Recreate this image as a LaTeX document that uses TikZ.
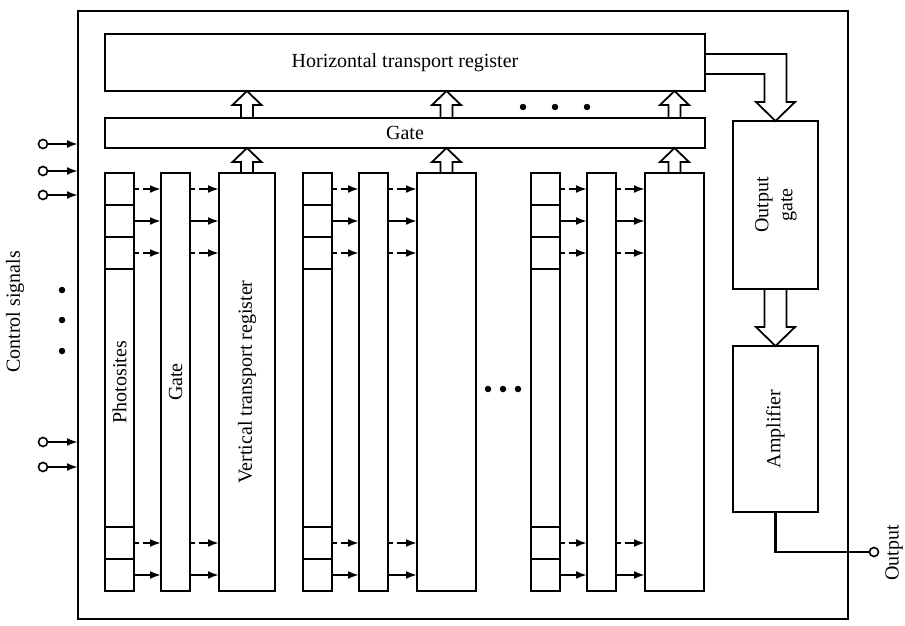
\documentclass[tikz,border=0pt]{standalone}
\usepackage{fontspec}
\setmainfont{Liberation Serif}
\usetikzlibrary{arrows.meta,calc}
\tikzset{
  blk/.style={rectangle, draw, line width=1.8pt, inner sep=0pt, outer sep=0pt, font=\fontsize{20}{24}\selectfont},
  chipbox/.style={rectangle, draw, line width=2.8pt, inner sep=0pt, outer sep=0pt},
  sig/.style={line width=2.2pt, -{Latex[length=11pt,width=8pt]}},
  dsig/.style={sig, dash pattern=on 5pt off 4pt on 40pt},
  hollow/.style={draw, line width=1.8pt},
  bullet/.style={circle, fill, inner sep=0pt, minimum size=6.5pt},
  term/.style={circle, draw, fill=white, line width=1.6pt, inner sep=0pt, minimum size=9pt},
  lbl/.style={font=\fontsize{20}{24}\selectfont, inner sep=0pt}
}
\newcommand{\hollowup}[2]{%
  \draw[hollow] ($(#1)+(-6,0)$) -- ($(#2)+(-6,14)$) -- ($(#2)+(-14.5,14)$) -- (#2)
    -- ($(#2)+(14.5,14)$) -- ($(#2)+(6,14)$) -- ($(#1)+(6,0)$);}

\begin{document}
\begin{tikzpicture}[x=1pt, y=-1pt]
  \useasboundingbox (0,0) rectangle (905,626);
  \node[chipbox, anchor=north west, minimum width=770pt, minimum height=608pt] (chip) at (78,11) {};
  \node[blk, anchor=north west, minimum width=600pt, minimum height=57pt] (htr) at (105,34) {Horizontal transport register};
  \node[blk, anchor=north west, minimum width=600pt, minimum height=30pt] (gate) at (105,118) {Gate};
  \node[blk, anchor=north west, minimum width=85pt, minimum height=168pt] (og) at (733,121) {\rotatebox{90}{\begin{tabular}{@{}c@{}}Output\\gate\end{tabular}}};
  \node[blk, anchor=north west, minimum width=85pt, minimum height=166pt] (amp) at (733,346) {\rotatebox{90}{Amplifier}};

  \foreach \c/\x/\w/\pl/\gl/\vl in {1/105/56/Photosites/Gate/Vertical transport register, 2/303/59/{}/{}/{}, 3/531/59/{}/{}/{}} {
    \node[blk, anchor=north west, minimum width=29pt, minimum height=418pt] (ph\c) at (\x,173) {\rotatebox{90}{\pl}};
    \node[blk, anchor=north west, minimum width=29pt, minimum height=418pt] (gt\c) at (\x+56,173) {\rotatebox{90}{\gl}};
    \node[blk, anchor=north west, minimum width=\w pt, minimum height=418pt] (vtr\c) at (\x+114,173) {\rotatebox{90}{\vl}};
    \foreach \r/\y/\s in {1/173/dsig, 2/205/sig, 3/237/dsig, 4/527/dsig, 5/559/sig} {
      \node[blk, anchor=north west, minimum width=29pt, minimum height=32pt] (cell\c\r) at (\x,\y) {};
      \draw[\s] (cell\c\r.east) -- (cell\c\r.east -| gt\c.west);
      \draw[\s] (cell\c\r.east -| gt\c.east) -- (cell\c\r.east -| vtr\c.west);
    }
    \hollowup{vtr\c.north}{vtr\c.north |- gate.south}
    \hollowup{vtr\c.north |- gate.north}{vtr\c.north |- htr.south}
  }

  \draw[hollow] ($(htr.north east)+(0,20)$) -| ($(og.north)+(11,-19)$) -- ($(og.north)+(19.5,-19)$) -- (og.north)
    -- ($(og.north)+(-19.5,-19)$) -- ($(og.north)+(-11,-19)$) |- ($(htr.north east)+(0,40)$);
  \draw[hollow] ($(og.south)+(-11,0)$) -- ($(amp.north)+(-11,-19)$) -- ($(amp.north)+(-19.5,-19)$) -- (amp.north)
    -- ($(amp.north)+(19.5,-19)$) -- ($(amp.north)+(11,-19)$) -- ($(og.south)+(11,0)$);

  \foreach \i/\x in {1/523, 2/555, 3/587} \node[bullet] (hd\i) at (\x,107) {};
  \foreach \i/\x in {1/488, 2/503, 3/518} \node[bullet] (md\i) at (\x,389) {};
  \foreach \i/\y in {1/290, 2/320, 3/351} \node[bullet] (vd\i) at (62,\y) {};

  \foreach \i/\y in {1/144, 2/171, 3/195, 4/442, 5/467} {
    \node[term] (cin\i) at (43,\y) {};
    \draw[sig] (cin\i) -- (cin\i -| chip.west);
  }
  \node[lbl, rotate=90] (ctl) at (15,312) {Control signals};

  \node[term] (outterm) at (874,552) {};
  \draw[line width=2.6pt] (amp.south) |- (outterm);
  \node[lbl, rotate=90] (outlbl) at (894,553) {Output};
\end{tikzpicture}
\end{document}
